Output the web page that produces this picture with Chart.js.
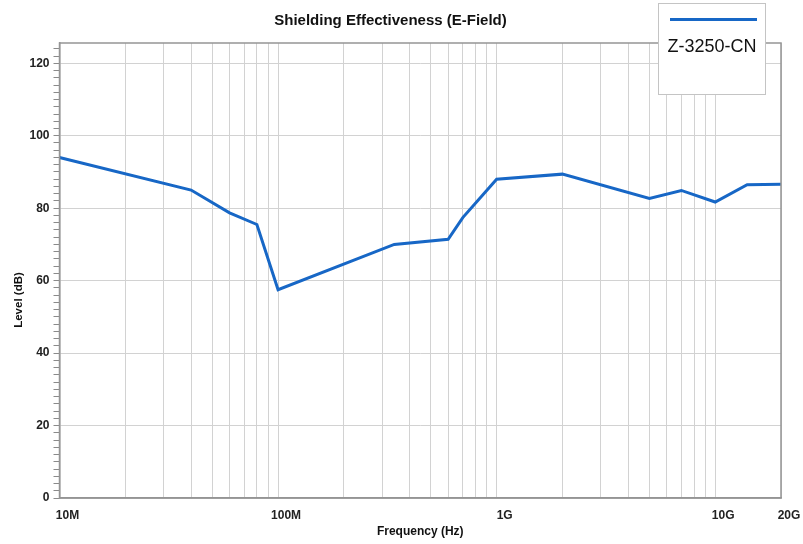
<!DOCTYPE html>
<html>
<head>
<meta charset="utf-8">
<script src="https://cdn.jsdelivr.net/npm/chart.js@4.4.1/dist/chart.umd.min.js"></script>
<style>
  html, body { margin: 0; padding: 0; background: #ffffff; }
  #wrap { position: relative; width: 803px; height: 544px; }
</style>
</head>
<body>
<div id="wrap"><canvas id="c"></canvas></div>
<script>
// ---- Data ----
const seriesName = 'Z-3250-CN';
const frequenciesHz = [1e7, 4e7, 6e7, 8e7, 1e8, 3.4e8, 6e8, 7e8, 1e9, 2e9, 5e9, 7e9, 1e10, 1.4e10, 2e10];
const levelsDb = [94, 85, 78.7, 75.5, 57.5, 70, 71.4, 77.4, 88, 89.4, 82.7, 84.9, 81.7, 86.5, 86.6];

// ---- Axis ticks ----
const xGridValues = [1e7,2e7,3e7,4e7,5e7,6e7,7e7,8e7,9e7,
                     1e8,2e8,3e8,4e8,5e8,6e8,7e8,8e8,9e8,
                     1e9,2e9,3e9,4e9,5e9,6e9,7e9,8e9,9e9,
                     1e10,2e10];
const xLabelValues = [1e7, 1e8, 1e9, 1e10, 2e10];
const xLabelTexts  = ['10M', '100M', '1G', '10G', '20G'];
const yMinorValues = [];
for (let v = 0; v <= 124; v += 2) yMinorValues.push(v);
const yMajorStep = 20;
const yAxisTitle = 'Level (dB)';

const FONT = "'Liberation Sans', Arial, Helvetica, sans-serif";
const LINE_COLOR = '#1767c6';
const GRID_COLOR = '#d2d2d2';
const FRAME_COLOR = '#959595';

const framePlugin = {
  id: 'frame',
  afterDraw(chart) {
    const { ctx, chartArea: a } = chart;
    ctx.save();
    ctx.strokeStyle = FRAME_COLOR;
    ctx.lineWidth = 1.5;
    ctx.strokeRect(a.left, a.top, a.right - a.left, a.bottom - a.top);
    // y axis title
    ctx.save();
    ctx.translate(19, 300);
    ctx.rotate(-Math.PI / 2);
    ctx.fillStyle = '#111111';
    ctx.font = 'bold 11.5px ' + FONT;
    ctx.textAlign = 'center';
    ctx.textBaseline = 'middle';
    ctx.fillText(yAxisTitle, 0, 0);
    ctx.restore();
    // floating legend box
    const ds = chart.data.datasets[0];
    const bx = 658.5, by = 3.5, bw = 107, bh = 91;
    ctx.fillStyle = '#ffffff';
    ctx.fillRect(bx, by, bw, bh);
    ctx.strokeStyle = '#c4c4c4';
    ctx.lineWidth = 1;
    ctx.strokeRect(bx, by, bw, bh);
    ctx.strokeStyle = ds.borderColor;
    ctx.lineWidth = 3;
    ctx.beginPath();
    ctx.moveTo(670, 19.5);
    ctx.lineTo(757, 19.5);
    ctx.stroke();
    ctx.fillStyle = '#111111';
    ctx.font = '18px ' + FONT;
    ctx.textAlign = 'center';
    ctx.textBaseline = 'middle';
    ctx.fillText(ds.label, 712, 47);
    ctx.restore();
  }
};

new Chart(document.getElementById('c'), {
  type: 'line',
  data: {
    datasets: [{
      label: seriesName,
      data: frequenciesHz.map((f, i) => ({ x: f, y: levelsDb[i] })),
      borderColor: LINE_COLOR,
      backgroundColor: LINE_COLOR,
      borderWidth: 3,
      pointRadius: 0,
      tension: 0,
      fill: false
    }]
  },
  options: {
    responsive: true,
    maintainAspectRatio: false,
    animation: false,
    devicePixelRatio: 1,
    layout: { padding: { left: 0, right: 22, top: 0, bottom: 0 } },
    plugins: {
      legend: { display: false },
      tooltip: { enabled: false },
      title: {
        display: true,
        text: 'Shielding Effectiveness (E-Field)',
        color: '#111111',
        font: { family: FONT, size: 15, weight: 'bold' },
        padding: { top: 12, bottom: 13 }
      }
    },
    scales: {
      x: {
        type: 'logarithmic',
        min: 1e7,
        max: 2e10,
        afterBuildTicks(scale) {
          scale.ticks = xGridValues.map(v => ({ value: v }));
        },
        afterFit(scale) { scale.height = 46; },
        grid: { color: GRID_COLOR, lineWidth: 1, drawTicks: false },
        border: { display: true, color: FRAME_COLOR, width: 1.5 },
        ticks: {
          autoSkip: false,
          maxRotation: 0,
          padding: 10,
          labelOffset: 8,
          color: '#222222',
          font: { family: FONT, size: 12, weight: 'bold' },
          callback(value) {
            const idx = xLabelValues.findIndex(v => Math.abs(v - value) / v < 1e-6);
            return idx >= 0 ? xLabelTexts[idx] : '';
          }
        },
        title: {
          display: true,
          text: 'Frequency (Hz)',
          color: '#111111',
          font: { family: FONT, size: 12, weight: 'bold' },
          padding: { top: 2, bottom: 5 }
        }
      },
      y: {
        type: 'linear',
        min: 0,
        max: 125.6,
        afterBuildTicks(scale) {
          scale.ticks = yMinorValues.map(v => ({ value: v }));
        },
        afterFit(scale) { scale.width = 59.5; },
        grid: {
          color: ctx => (ctx.tick && ctx.tick.value % yMajorStep === 0) ? GRID_COLOR : 'rgba(0,0,0,0)',
          tickColor: '#8a8a8a',
          tickLength: 6,
          lineWidth: 1
        },
        border: { display: true, color: FRAME_COLOR, width: 1.5 },
        ticks: {
          autoSkip: false,
          padding: 4,
          color: '#222222',
          font: { family: FONT, size: 12, weight: 'bold' },
          callback(value) {
            return value % yMajorStep === 0 ? String(value) : '';
          }
        },
        title: { display: false }
      }
    }
  },
  plugins: [framePlugin]
});
</script>
</body>
</html>
